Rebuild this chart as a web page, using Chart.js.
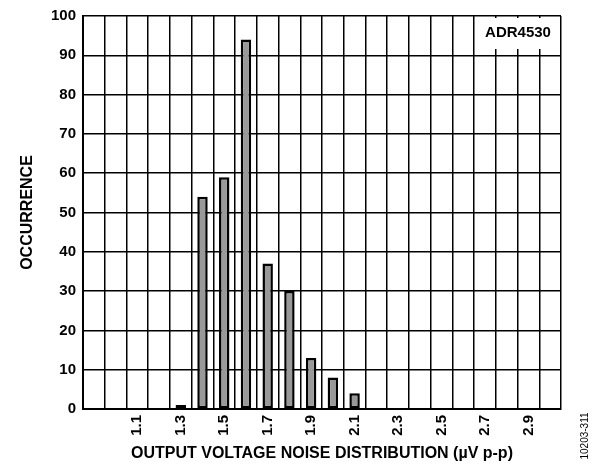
<!DOCTYPE html>
<html>
<head>
<meta charset="utf-8">
<script src="https://cdn.jsdelivr.net/npm/chart.js@4/dist/chart.umd.min.js"></script>
<style>
  html, body { margin: 0; padding: 0; background: #fff; }
  #wrap { width: 600px; height: 465px; }
</style>
</head>
<body>
<div id="wrap"><canvas id="myChart" width="600" height="465"></canvas></div>
<script>
// noise bins (uV p-p) and how many parts fell in each
const noiseBins = ['0.9', '1.0', '1.1', '1.2', '1.3', '1.4', '1.5', '1.6', '1.7', '1.8', '1.9',
    '2.0', '2.1', '2.2', '2.3', '2.4', '2.5', '2.6', '2.7', '2.8', '2.9', '3.0'];
const occurrence = [0, 0, 0, 0, 1, 54, 59, 94, 37, 30, 13, 8, 4, 0, 0, 0, 0, 0, 0, 0, 0, 0];
const shownTicks = ['1.1', '1.3', '1.5', '1.7', '1.9', '2.1', '2.3', '2.5', '2.7', '2.9'];
const yTicks = [0, 10, 20, 30, 40, 50, 60, 70, 80, 90, 100];

const partName = 'ADR4530';
const figureId = '10203-311';

const fontFamily = 'Arial, "Liberation Sans", sans-serif';

const labelsPlugin = {
    id: 'labelsPlugin',
    afterDraw(chart) {
        const ctx = chart.ctx;
        const area = chart.chartArea;
        ctx.save();
        // part name box in the top right corner
        ctx.fillStyle = '#fff';
        ctx.fillRect(area.right - 83, area.top + 2, 81, 31);
        ctx.fillStyle = '#000';
        ctx.font = 'bold 15px ' + fontFamily;
        ctx.textAlign = 'center';
        ctx.textBaseline = 'middle';
        ctx.fillText(partName, area.right - 43, area.top + 17);

        // figure number on the right side
        ctx.font = '10px ' + fontFamily;
        ctx.translate(585, 436);
        ctx.rotate(-Math.PI / 2);
        ctx.fillText(figureId, 0, 0);
        ctx.restore();
    }
};

const ctx = document.getElementById('myChart').getContext('2d');
new Chart(ctx, {
    type: 'bar',
    data: {
        labels: noiseBins,
        datasets: [{
            data: occurrence,
            // empty bins get no mark at all
            backgroundColor: (c) => (c.raw ? '#999999' : 'rgba(0,0,0,0)'),
            borderColor: (c) => (c.raw ? '#000' : 'rgba(0,0,0,0)'),
            borderWidth: (c) => (c.raw ? 2.5 : 0),
            borderSkipped: false,
            barPercentage: 0.48,
            categoryPercentage: 1
        }]
    },
    options: {
        responsive: false,
        animation: false,
        layout: { padding: { left: 0, right: 39, top: 15, bottom: 0 } },
        plugins: {
            legend: { display: false },
            tooltip: { enabled: false }
        },
        scales: {
            x: {
                grid: { color: '#000', lineWidth: 1.5, drawTicks: false, offset: true },
                border: { color: '#000', width: 2 },
                ticks: {
                    color: '#000',
                    font: { family: fontFamily, size: 15, weight: 'bold' },
                    autoSkip: false,
                    minRotation: 90,
                    maxRotation: 90,
                    padding: 6,
                    callback: function (value) {
                        const l = this.getLabelForValue(value);
                        return shownTicks.includes(l) ? l : '';
                    }
                },
                title: {
                    display: true,
                    text: 'OUTPUT VOLTAGE NOISE DISTRIBUTION (\u00b5V p-p)',
                    color: '#000',
                    font: { family: fontFamily, size: 16, weight: 'bold' },
                    padding: { top: 0, bottom: 2 }
                },
                afterFit: (scale) => { scale.height = 56; }
            },
            y: {
                min: yTicks[0],
                max: yTicks[yTicks.length - 1],
                grid: { color: '#000', lineWidth: 1.5, drawTicks: false },
                border: { color: '#000', width: 2 },
                ticks: {
                    stepSize: 10,
                    color: '#000',
                    padding: 7,
                    font: { family: fontFamily, size: 15, weight: 'bold' }
                },
                title: {
                    display: true,
                    text: 'OCCURRENCE',
                    color: '#000',
                    font: { family: fontFamily, size: 16, weight: 'bold' },
                    padding: { top: 18, bottom: 0 }
                },
                afterFit: (scale) => { scale.width = 83; }
            }
        }
    },
    plugins: [labelsPlugin]
});
</script>
</body>
</html>
